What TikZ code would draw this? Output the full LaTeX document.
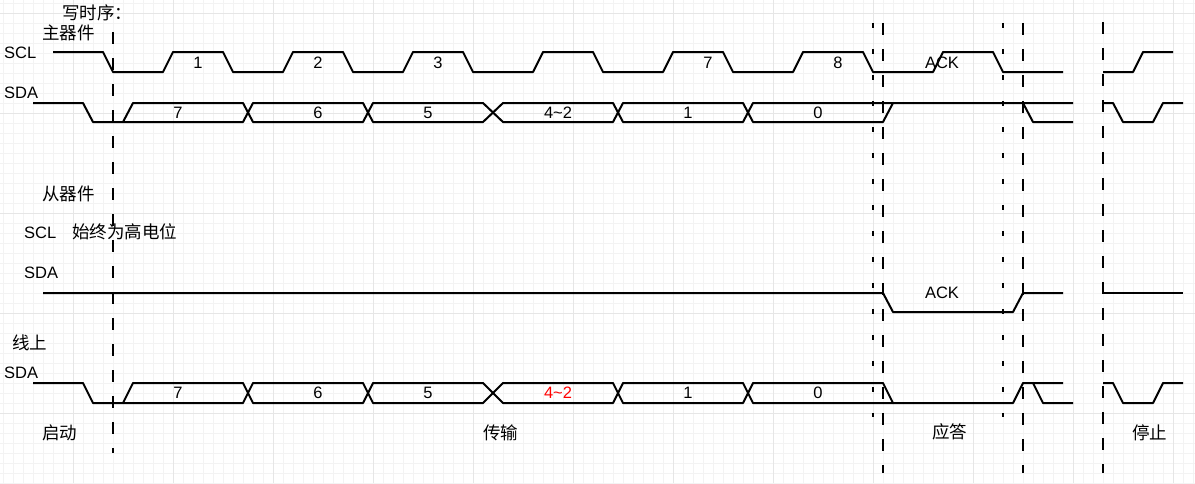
\documentclass[tikz,border=0pt]{standalone}
\usepackage{fontspec}
\setmainfont{Liberation Sans}
\newfontfamily\cjk{Noto Sans CJK SC}
\definecolor{gridminor}{HTML}{F3F3F3}
\definecolor{gridmajor}{HTML}{E6E6E6}
\definecolor{redtxt}{HTML}{FF0000}
\begin{document}
\begin{tikzpicture}[x=1pt,y=-1pt,
  sig/.style={line width=2pt, line join=round},
  dthick/.style={line width=2pt, dash pattern=on 12pt off 14pt},
  dthin/.style={line width=1.6pt, dash pattern=on 5pt off 21pt},
  lat/.style={inner sep=0pt, font=\fontsize{16.5}{19}\selectfont, anchor=west},
  han/.style={inner sep=0pt, font=\cjk\fontsize{17.5}{20}\selectfont, anchor=west},
  num/.style={inner sep=0pt, font=\fontsize{16.5}{19}\selectfont},
  gmin/.style={draw=gridminor, line width=1pt},
  gmaj/.style={draw=gridmajor, line width=1pt}]
\useasboundingbox (0,0) rectangle (1195,483);
\fill[white] (0,0) rectangle (1195,483);
% grid
\foreach \x in {3,13,...,1193} {\draw[gmin] (\x,0) -- (\x,483);}
\foreach \y in {3,13,...,483} {\draw[gmin] (0,\y) -- (1195,\y);}
\foreach \x in {73,173,...,1173} {\draw[gmaj] (\x,0) -- (\x,483);}
\foreach \y in {13,113,...,413} {\draw[gmaj] (0,\y) -- (1195,\y);}

% master SCL
\draw[sig] (53,52) -- (103,52) -- (113,72) -- (163,72) -- (173,52) -- (223,52) -- (233,72)
  -- (283,72) -- (293,52) -- (343,52) -- (353,72) -- (403,72) -- (413,52) -- (463,52) -- (473,72)
  -- (533,72) -- (543,52) -- (593,52) -- (603,72) -- (663,72) -- (673,52) -- (723,52) -- (733,72)
  -- (793,72) -- (803,52) -- (863,52) -- (873,72) -- (933,72) -- (943,52) -- (993,52) -- (1003,72)
  -- (1063,72);
\draw[sig] (1103,72) -- (1133,72) -- (1143,52) -- (1173,52);

% master SDA
\draw[sig] (33,103) -- (83,103) -- (93,122) -- (243,122) -- (253,103) -- (363,103) -- (373,122)
  -- (483,122) -- (503,103) -- (613,103) -- (623,122) -- (743,122) -- (753,103) -- (1073,103);
\draw[sig] (123,122) -- (133,103) -- (243,103) -- (253,122) -- (363,122) -- (373,103)
  -- (483,103) -- (503,122) -- (613,122) -- (623,103) -- (743,103) -- (753,122) -- (883,122) -- (893,103);
\draw[sig] (1023,103) -- (1033,122) -- (1073,122);
\draw[sig] (1103,103) -- (1113,103) -- (1123,122) -- (1153,122) -- (1163,103) -- (1183,103);

% slave SDA
\draw[sig] (43,293) -- (883,293) -- (893,312) -- (1013,312) -- (1023,293) -- (1063,293);
\draw[sig] (1103,293) -- (1183,293);

% bus SDA
\draw[sig] (33,383) -- (83,383) -- (93,403) -- (243,403) -- (253,383) -- (363,383) -- (373,403)
  -- (483,403) -- (503,383) -- (613,383) -- (623,403) -- (743,403) -- (753,383) -- (883,383)
  -- (893,403) -- (1013,403) -- (1023,383) -- (1063,383);
\draw[sig] (123,403) -- (133,383) -- (243,383) -- (253,403) -- (363,403) -- (373,383)
  -- (483,383) -- (503,403) -- (613,403) -- (623,383) -- (743,383) -- (753,403) -- (893,403);
\draw[sig] (1033,383) -- (1043,403) -- (1073,403);
\draw[sig] (1103,383) -- (1113,383) -- (1123,403) -- (1153,403) -- (1163,383) -- (1183,383);

% dashed markers
\draw[dthick] (113,32) -- (113,453);
\draw[dthick] (883,23) -- (883,473);
\draw[dthick] (1023,23) -- (1023,473);
\draw[dthick] (1103,22) -- (1103,473);
\draw[dthin] (873,23) -- (873,417);
\draw[dthin] (1003,23) -- (1003,417);

% texts
\node[han] (tw) at (62,13) {写时序：};
\node[han] (tmaster) at (42,32.5) {主器件};
\node[lat] (tscl) at (4,52.5) {SCL};
\node[lat] (tsda) at (4,93) {SDA};
\node[han] (tslave) at (42,194) {从器件};
\node[lat] (tscl2) at (24,232.5) {SCL};
\node[han] (thigh) at (72,232) {始终为高电位};
\node[lat] (tsda2) at (24,273) {SDA};
\node[han] (tline) at (12,343) {线上};
\node[lat] (tsda3) at (4,373) {SDA};
\node[han] (tstart) at (42,433) {启动};
\node[han] (ttrans) at (483,433) {传输};
\node[han] (tackz) at (932,432) {应答};
\node[han] (tstop) at (1132,433) {停止};

% SCL pulse labels
\node[num] (c1) at (198,63) {1};
\node[num] (c2) at (318,63) {2};
\node[num] (c3) at (438,63) {3};
\node[num] (c7) at (708,63) {7};
\node[num] (c8) at (838,63) {8};
\node[num] (cack) at (942,63) {ACK};

% master SDA labels
\node[num] (m7) at (178,113) {7};
\node[num] (m6) at (318,113) {6};
\node[num] (m5) at (428,113) {5};
\node[num] (m42) at (558,113) {4\textasciitilde2};
\node[num] (m1) at (688,113) {1};
\node[num] (m0) at (818,113) {0};

% slave ACK
\node[num] (sack) at (942,293) {ACK};

% bus SDA labels
\node[num] (b7) at (178,393) {7};
\node[num] (b6) at (318,393) {6};
\node[num] (b5) at (428,393) {5};
\node[num, text=redtxt] (b42) at (558,393) {4\textasciitilde2};
\node[num] (b1) at (688,393) {1};
\node[num] (b0) at (818,393) {0};
\end{tikzpicture}
\end{document}
